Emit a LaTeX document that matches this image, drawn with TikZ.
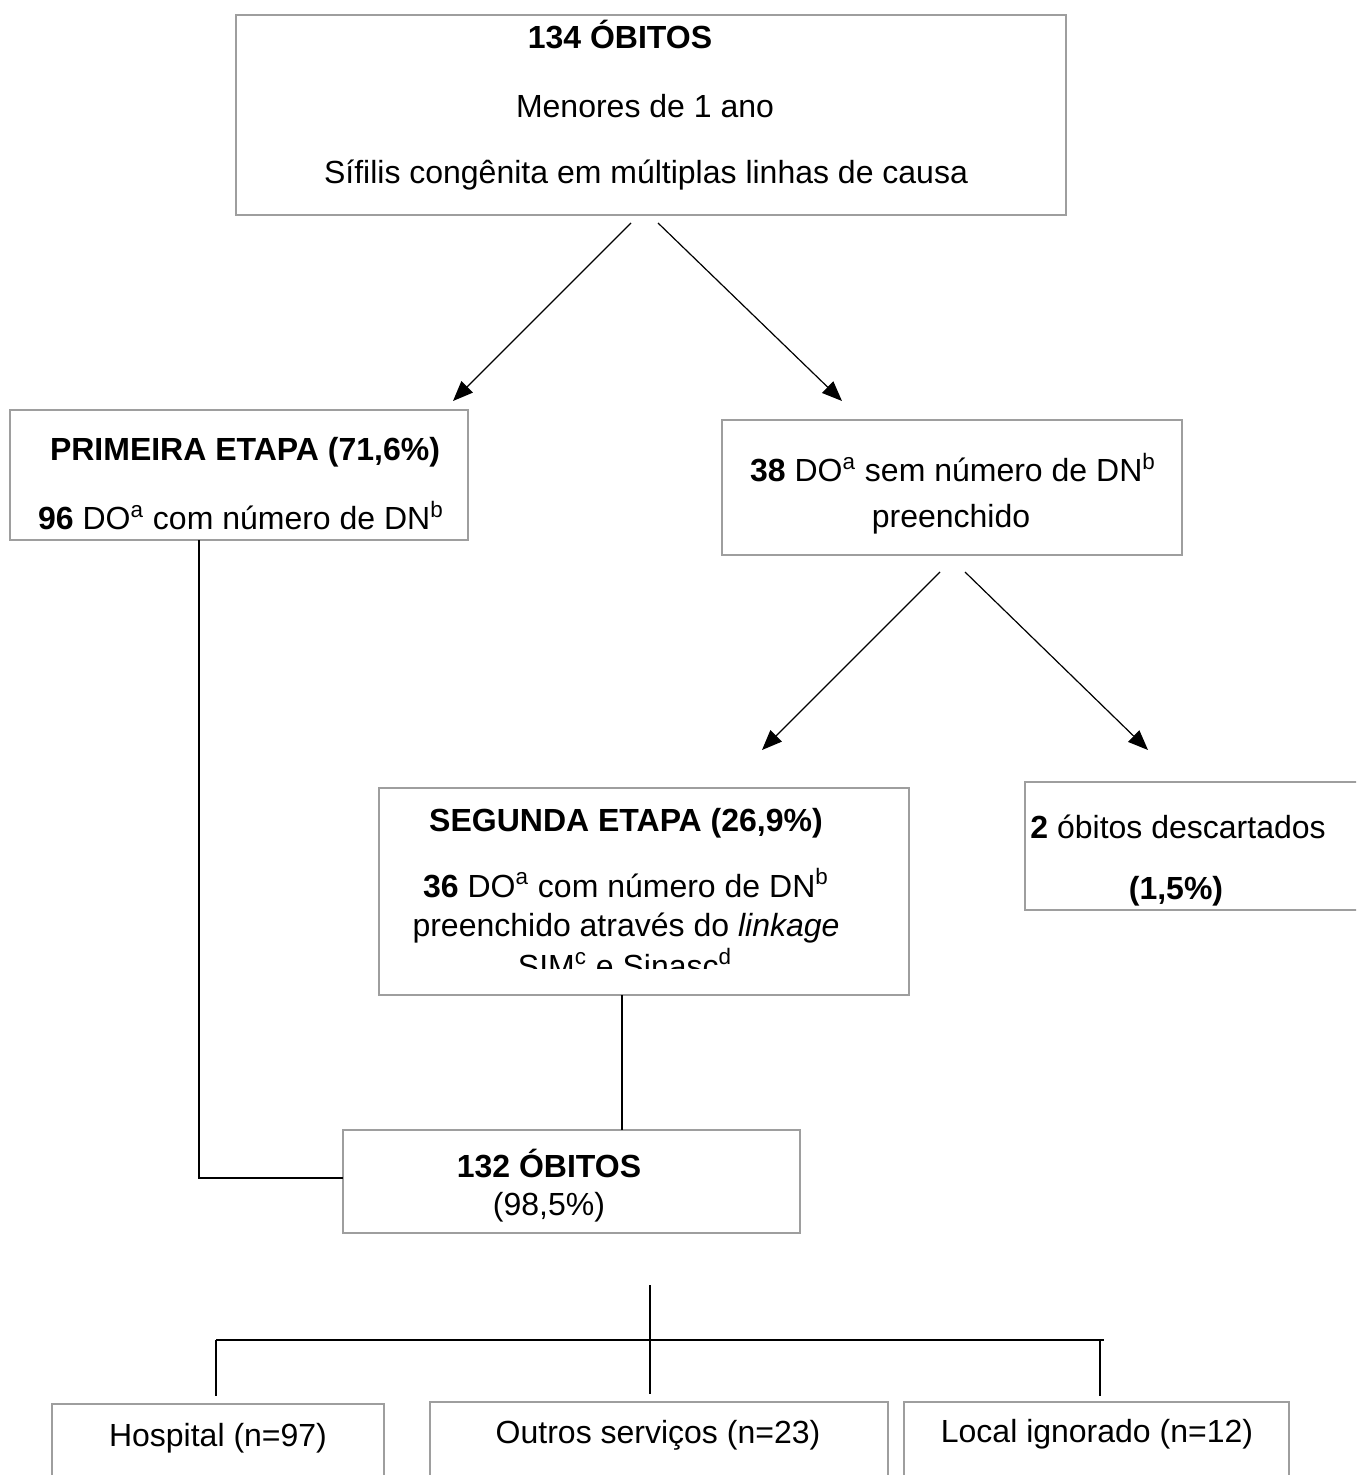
\documentclass[tikz,border=0pt]{standalone}
\usepackage{fontspec}
\setmainfont{Liberation Sans}
\usetikzlibrary{arrows.meta}
\tikzset{
  box/.style={draw=black!38, line width=1pt, inner sep=0pt, outer sep=0pt, anchor=north west},
  txt/.style={font=\fontsize{16pt}{19pt}\selectfont, inner sep=0pt, anchor=base},
  txtw/.style={txt, anchor=base west},
  conn/.style={line width=0.6pt, black},
  arr/.style={conn, -{Triangle[length=10pt,width=8pt]}}
}
\begin{document}
\begin{tikzpicture}[x=0.5pt,y=-0.5pt]
\useasboundingbox (0,0) rectangle (1356,1475);
\clip (0,0) rectangle (1356,1475);
\fill[white] (0,0) rectangle (1356,1475);
% boxes
\node[box, minimum width=415pt, minimum height=100pt] (top) at (236,15) {};
\node[box, minimum width=229pt, minimum height=65pt] (prim) at (10,410) {};
\node[box, minimum width=230pt, minimum height=67.5pt] (sem) at (722,420) {};
\node[box, minimum width=265pt, minimum height=103.5pt] (seg) at (379,788) {};
\node[box, minimum width=200pt, minimum height=64pt] (desc) at (1025,782) {};
\node[box, minimum width=228.5pt, minimum height=51.5pt] (tot) at (343,1130) {};
\node[box, minimum width=166pt, minimum height=60pt] (hosp) at (52,1404) {};
\node[box, minimum width=229pt, minimum height=60pt] (outr) at (430,1402) {};
\node[box, minimum width=192.5pt, minimum height=60pt] (loc) at (904,1402) {};
% texts
\node[txt] (t1) at (620,49) {\textbf{134 ÓBITOS}};
\node[txt] (t2) at (645,118) {Menores de 1 ano};
\node[txt] (t3) at (646,184) {Sífilis congênita em múltiplas linhas de causa};
\node[txt] (p1) at (245,461) {\textbf{PRIMEIRA ETAPA (71,6\%)}};
\node[txt] (p2) at (241,530) {\textbf{96} DO\textsuperscript{a} com número de DN\textsuperscript{b}};
\node[txt] (s1) at (953,482) {\textbf{38} DO\textsuperscript{a} sem número de DN\textsuperscript{b}};
\node[txt] (s2) at (951,528) {preenchido};
\node[txt] (g1) at (626,831) {\textbf{SEGUNDA ETAPA (26,9\%)}};
\node[txt] (g2) at (626,897) {\textbf{36} DO\textsuperscript{a} com número de DN\textsuperscript{b}};
\node[txt] (g3) at (626,936) {preenchido através do \textit{linkage}};
\begin{scope}
\clip (379,788) rectangle (909,968);
\node[txt] (g4) at (625,977) {SIM\textsuperscript{c} e Sinasc\textsuperscript{d}};
\end{scope}
\node[txtw] (d1) at (1030,838) {\textbf{2} óbitos descartados};
\node[txt] (d2) at (1176,899) {\textbf{(1,5\%)}};
\node[txt] (o1) at (549,1177) {\textbf{132 ÓBITOS}};
\node[txt] (o2) at (549,1215) {(98,5\%)};
\node[txt] (h1) at (218,1446) {Hospital (n=97)};
\node[txt] (h2) at (658,1443) {Outros serviços (n=23)};
\node[txt] (h3) at (1097,1442) {Local ignorado (n=12)};
% connector points
\coordinate (a1s) at (631,223);
\coordinate (a1e) at (453,401);
\coordinate (a2s) at (658,223);
\coordinate (a2e) at (842,401);
\coordinate (b1s) at (940,572);
\coordinate (b1e) at (762,750);
\coordinate (b2s) at (965,572);
\coordinate (b2e) at (1148,750);
\coordinate (c1) at (199,540);
\coordinate (c2) at (199,1178);
\coordinate (c3) at (343,1178);
\coordinate (e1) at (622,995);
\coordinate (e2) at (622,1130);
\coordinate (f1) at (650,1285);
\coordinate (f2) at (650,1394);
\coordinate (hl) at (216,1340);
\coordinate (hr) at (1104,1340);
\coordinate (v1a) at (216,1340);
\coordinate (v1b) at (216,1396);
\coordinate (v3a) at (1100,1340);
\coordinate (v3b) at (1100,1396);
% connectors
\draw[arr] (a1s) -- (a1e);
\draw[arr] (a2s) -- (a2e);
\draw[arr] (b1s) -- (b1e);
\draw[arr] (b2s) -- (b2e);
\draw[conn] (c1) -- (c2) -- (c3);
\draw[conn] (e1) -- (e2);
\draw[conn] (f1) -- (f2);
\draw[conn] (hl) -- (hr);
\draw[conn] (v1a) -- (v1b);
\draw[conn] (v3a) -- (v3b);
\end{tikzpicture}
\end{document}
